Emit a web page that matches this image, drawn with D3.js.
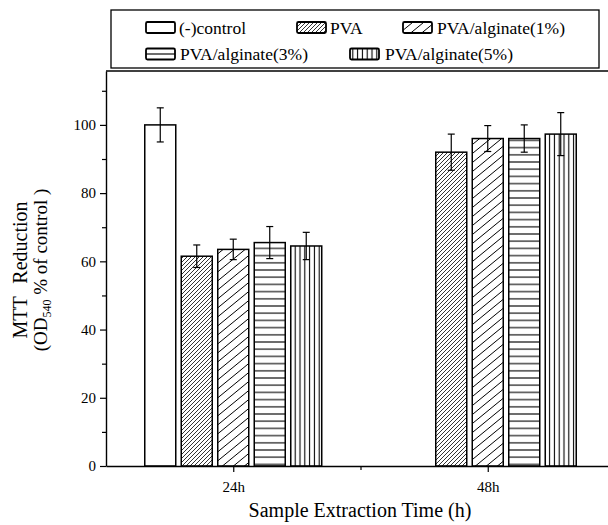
<!DOCTYPE html>
<html><head><meta charset="utf-8">
<script src="https://cdn.jsdelivr.net/npm/d3@7"></script>
<style>body{margin:0;background:#fff}svg{display:block}text{font-family:"Liberation Serif","Times New Roman",serif;fill:#000}</style>
</head><body>
<script>
// ---- data ----
const categories = ["24h", "48h"];
const categoryPos = [1, 2];
const series = ["(-)control", "PVA", "PVA/alginate(1%)", "PVA/alginate(3%)", "PVA/alginate(5%)"];
const valControl = [100, null];
const valPVA = [61.5, 92];
const valAlg1 = [63.5, 96];
const valAlg3 = [65.5, 96];
const valAlg5 = [64.5, 97.3];
const errControl = [5, null];
const errPVA = [3.3, 5.3];
const errAlg1 = [3, 3.8];
const errAlg3 = [4.7, 4];
const errAlg5 = [4, 6.3];
const yMajorTicks = [0, 20, 40, 60, 80, 100];
const yMinorTicks = [10, 30, 50, 70, 90, 110];
const xMinorTicks = [1.5];

const values = [valControl, valPVA, valAlg1, valAlg3, valAlg5];
const errors = [errControl, errPVA, errAlg1, errAlg3, errAlg5];
const patterns = ["none", "pPVA", "pA1", "pA3", "pA5"];

const W = 608, H = 525;
const svg = d3.select("body").append("svg").attr("width", W).attr("height", H);
const defs = svg.append("defs");

function pat(id, w, h, lines, sw) {
  const p = defs.append("pattern").attr("id", id).attr("patternUnits", "userSpaceOnUse")
    .attr("width", w).attr("height", h);
  p.append("rect").attr("width", w).attr("height", h).attr("fill", "#fff");
  lines.forEach(l => p.append("line").attr("x1", l[0]).attr("y1", l[1]).attr("x2", l[2]).attr("y2", l[3])
    .attr("stroke", "#000").attr("stroke-width", sw));
}
pat("pPVA", 4, 4, [[0, 4, 4, 0], [-1, 1, 1, -1], [3, 5, 5, 3]], 0.8);
pat("pA1", 11, 9, [[0, 9, 11, 0], [-1.1, 0.9, 1.1, -0.9], [9.9, 9.9, 12.1, 8.1]], 1);
pat("pA3", 8, 7.2, [[0, 3.6, 8, 3.6]], 1.1);
pat("pA5", 4.8, 8, [[2.4, 0, 2.4, 8]], 1.1);

const x = d3.scaleLinear().domain([0.5, 2.5]).range([106, 615]);
const y = d3.scaleLinear().domain([0, 115.8]).range([466, 71]);
const pitch = 0.1434, bw = 0.1218;

const g = svg.append("g");
// frame top line
g.append("line").attr("x1", x(0.5)).attr("x2", W).attr("y1", y(115.8)).attr("y2", y(115.8))
  .attr("stroke", "#000").attr("stroke-width", 1.3);

// bars
series.forEach((s, si) => {
  categories.forEach((c, ci) => {
    const v = values[si][ci];
    if (v == null) return;
    const cx = categoryPos[ci] + (si - 2) * pitch;
    g.append("rect").attr("x", x(cx - bw / 2)).attr("width", x(cx + bw / 2) - x(cx - bw / 2))
      .attr("y", y(v)).attr("height", y(0) - y(v))
      .attr("fill", patterns[si] === "none" ? "#fff" : `url(#${patterns[si]})`)
      .attr("stroke", "#000").attr("stroke-width", 1.5);
  });
});
// error bars
series.forEach((s, si) => {
  categories.forEach((c, ci) => {
    const v = values[si][ci], e = errors[si][ci];
    if (v == null) return;
    const px = x(categoryPos[ci] + (si - 2) * pitch);
    const eg = g.append("g").attr("stroke", "#000").attr("stroke-width", 1.2);
    eg.append("line").attr("x1", px).attr("x2", px).attr("y1", y(v + e)).attr("y2", y(v - e));
    eg.append("line").attr("x1", px - 3.5).attr("x2", px + 3.5).attr("y1", y(v + e)).attr("y2", y(v + e));
    eg.append("line").attr("x1", px - 3.5).attr("x2", px + 3.5).attr("y1", y(v - e)).attr("y2", y(v - e));
  });
});

// axes
g.append("g").attr("transform", `translate(${x(0.5)},0)`)
  .call(d3.axisLeft(y).tickValues(yMajorTicks).tickSize(6).tickSizeOuter(0).tickPadding(4));
g.append("g").attr("transform", `translate(${x(0.5)},0)`)
  .call(d3.axisLeft(y).tickValues(yMinorTicks).tickSize(4).tickFormat("").tickSizeOuter(0))
  .select(".domain").remove();
g.append("g").attr("transform", `translate(0,${y(0)})`)
  .call(d3.axisBottom(x).tickValues(categoryPos).tickFormat((d, i) => categories[i]).tickSize(6).tickSizeOuter(0).tickPadding(9));
g.append("g").attr("transform", `translate(0,${y(0)})`)
  .call(d3.axisBottom(x).tickValues(xMinorTicks).tickSize(4).tickFormat("").tickSizeOuter(0))
  .select(".domain").remove();
g.selectAll(".domain").attr("stroke-width", 1.4);
g.selectAll(".tick line").attr("stroke-width", 1.2);
g.selectAll(".tick text").attr("font-family", "Liberation Serif").attr("font-size", 15).attr("fill", "#000");

// axis titles
svg.append("text").attr("x", 360).attr("y", 517).attr("text-anchor", "middle")
  .attr("font-size", 20).text("Sample Extraction Time (h)");
const yt = svg.append("g").attr("transform", "translate(0,270) rotate(-90)");
yt.append("text").attr("x", 0).attr("y", 27).attr("text-anchor", "middle").attr("font-size", 20)
  .attr("word-spacing", 8).text("MTT Reduction");
const t2 = yt.append("text").attr("x", 0).attr("y", 47).attr("text-anchor", "middle").attr("font-size", 19);
t2.append("tspan").text("(OD");
t2.append("tspan").attr("font-size", 12).attr("dy", 4).text("540");
t2.append("tspan").attr("dy", -4).text(" % of control )");

// legend
svg.append("rect").attr("x", 111).attr("y", 10).attr("width", 488).attr("height", 58)
  .attr("fill", "#fff").attr("stroke", "#000").attr("stroke-width", 1.3);
const legendPos = [[146, 27.5, 179], [297, 27.5, 330], [403, 27.5, 437], [146, 54, 180], [350, 54, 385]];
series.forEach((s, si) => {
  const [sx, sy, tx] = legendPos[si];
  svg.append("rect").attr("x", sx).attr("y", sy - 5.5).attr("width", 29).attr("height", 11).attr("rx", 1.5)
    .attr("fill", patterns[si] === "none" ? "#fff" : `url(#${patterns[si]})`)
    .attr("stroke", "#000").attr("stroke-width", 1.8);
  svg.append("text").attr("x", tx).attr("y", sy + 6).attr("font-size", 17.5).text(s);
});
</script>
</body></html>
